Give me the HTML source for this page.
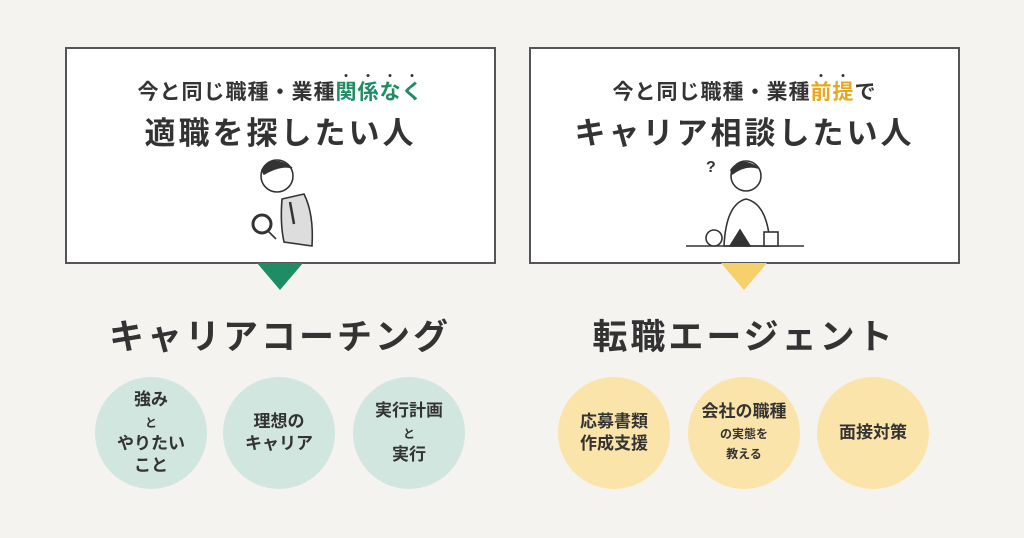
<!DOCTYPE html>
<html><head><meta charset="utf-8"><style>
*{margin:0;padding:0;box-sizing:border-box}
body{width:1024px;height:538px;background:#f4f3f0;position:relative;overflow:hidden;font-family:"Liberation Sans","Noto Sans CJK JP",sans-serif;color:#333;font-weight:bold}
.box{position:absolute;top:47px;width:431px;height:217px;background:#fff;border:2px solid #555}
.l1{position:absolute;top:27px;left:0;right:0;text-align:center;font-size:21px;letter-spacing:1px}
.l2{position:absolute;top:59px;left:0;right:0;text-align:center;font-size:31px;letter-spacing:3px}
.tri{position:absolute;top:263px;width:0;height:0;border-left:23px solid transparent;border-right:23px solid transparent;border-top:27px solid}
.t{position:absolute;top:309px;width:430px;text-align:center;font-size:35px;letter-spacing:3px}
.c{position:absolute;top:377px;width:112px;height:112px;border-radius:50%;display:flex;align-items:center;justify-content:center;text-align:center;font-size:17px;line-height:1.3}
.c>div{display:block}
.g{background:#d1e6df}.y{background:#fbe4a9}
.dot{position:relative}
.dot::before{content:"・";position:absolute;top:-14px;left:0;right:0;text-align:center;font-size:12px;color:#333}
small{font-size:12px}
</style></head><body>
<div class="box" style="left:65px">
<div class="l1">今と同じ職種・業種<span style="color:#1e8c64"><span class="dot">関</span><span class="dot">係</span><span class="dot">な</span><span class="dot">く</span></span></div>
<div class="l2">適職を探したい人</div>
<svg style="position:absolute;left:175px;top:105px" width="80" height="95" viewBox="0 0 80 95" fill="none" stroke="#333" stroke-width="1.6">
<path d="M40 45 L62 40 Q72 60 70 92 L42 88 Q38 70 40 45Z" fill="#ddd"/>
<path d="M48 48 L52 70" stroke-width="2.5"/>
<circle cx="35" cy="22" r="16" fill="#fff"/>
<path d="M20 16 Q30 0 50 14 Q40 10 22 20Z" fill="#333"/>
<circle cx="20" cy="70" r="9" fill="#fff" stroke-width="3"/>
<path d="M26 77 L34 85"/>
</svg>
</div>
<div class="box" style="left:529px">
<div class="l1">今と同じ職種・業種<span style="color:#e8a81c"><span class="dot">前</span><span class="dot">提</span></span>で</div>
<div class="l2">キャリア相談したい人</div>
<svg style="position:absolute;left:155px;top:105px" width="120" height="95" viewBox="0 0 120 95" fill="none" stroke="#333" stroke-width="1.6">
<text x="20" y="18" font-size="16" fill="#333" stroke="none">?</text>
<circle cx="60" cy="22" r="15" fill="#fff"/>
<path d="M45 16 Q55 2 72 14 Q60 10 46 20Z" fill="#333"/>
<path d="M38 92 Q40 50 60 45 Q82 50 84 92Z" fill="#fff"/>
<path d="M0 92 L118 92"/>
<circle cx="28" cy="84" r="8" fill="#fff"/>
<path d="M44 92 L54 76 L64 92Z" fill="#333"/>
<rect x="78" y="78" width="14" height="14" fill="#fff"/>
</svg>
</div>
<div class="tri" style="left:257px;border-top-color:#1e8c64"></div>
<div class="tri" style="left:721px;border-top-color:#f5d06b"></div>
<div class="t" style="left:65px">キャリアコーチング</div>
<div class="t" style="left:529px">転職エージェント</div>
<div class="c g" style="left:95px"><div>強み<br><small>と</small><br>やりたい<br>こと</div></div>
<div class="c g" style="left:223px"><div>理想の<br>キャリア</div></div>
<div class="c g" style="left:353px"><div>実行計画<br><small>と</small><br>実行</div></div>
<div class="c y" style="left:558px"><div>応募書類<br>作成支援</div></div>
<div class="c y" style="left:688px;line-height:1.2"><div>会社の職種<br><small>の実態を<br>教える</small></div></div>
<div class="c y" style="left:817px"><div>面接対策</div></div>
</body></html>
